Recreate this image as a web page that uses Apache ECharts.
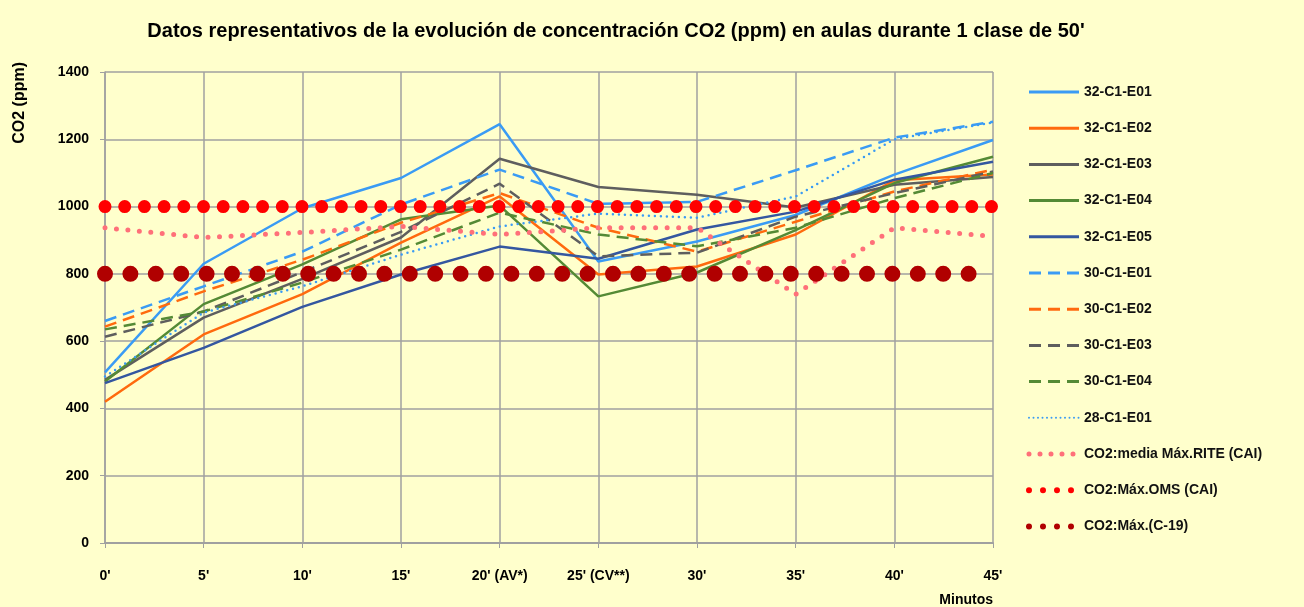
<!DOCTYPE html>
<html>
<head>
<meta charset="utf-8">
<script src="https://cdn.jsdelivr.net/npm/echarts@6/dist/echarts.min.js"></script>
<style>
  html, body { margin: 0; padding: 0; background: #ffffcc; }
  #chart { width: 1304px; height: 607px; }
</style>
</head>
<body>
<div id="chart"></div>
<script>
var minutos = ["0'", "5'", "10'", "15'", "20' (AV*)", "25' (CV**)", "30'", "35'", "40'", "45'"];
var yTicks = [0, 200, 400, 600, 800, 1000, 1200, 1400];

var s32E01 = [507, 830, 995, 1085, 1245, 837, 896, 975, 1095, 1198];
var s32E02 = [420, 620, 740, 893, 1030, 798, 822, 917, 1078, 1095];
var s32E03 = [485, 670, 785, 908, 1142, 1058, 1035, 997, 1065, 1088];
var s32E04 = [480, 710, 828, 962, 1003, 733, 804, 930, 1070, 1148];
var s32E05 = [475, 580, 702, 798, 881, 845, 932, 985, 1080, 1133];
var s30E01 = [660, 763, 866, 1006, 1110, 1008, 1014, 1108, 1205, 1252];
var s30E02 = [643, 748, 842, 952, 1040, 937, 866, 955, 1045, 1110];
var s30E03 = [613, 688, 805, 925, 1068, 852, 863, 970, 1040, 1104];
var s30E04 = [635, 688, 774, 872, 982, 917, 882, 937, 1025, 1100];
var s28E01 = [495, 685, 763, 857, 941, 979, 967, 1030, 1200, 1250];
var mediaRite = [937, 908, 923, 941, 917, 937, 937, 739, 937, 911];
var maxOms = [1000, 1000, 1000, 1000, 1000, 1000, 1000, 1000, 1000, 1000];
var maxC19 = [800, 800, 800, 800, 800, 800, 800, 800, 800, 800];

var font = 'Liberation Sans';

function serie(name, data, color, width, type, cap) {
    return {
        name: name,
        type: 'line',
        data: data,
        symbol: 'none',
        silent: true,
        lineStyle: { color: color, width: width, type: type, cap: cap || 'butt' },
        itemStyle: { color: color }
    };
}

var series = [
    serie('32-C1-E01', s32E01, '#3a9bf4', 2.5, 'solid'),
    serie('32-C1-E02', s32E02, '#ff6a0e', 2.5, 'solid'),
    serie('32-C1-E03', s32E03, '#5e5e5e', 2.5, 'solid'),
    serie('32-C1-E04', s32E04, '#548a35', 2.5, 'solid'),
    serie('32-C1-E05', s32E05, '#3457a0', 2.5, 'solid'),
    serie('30-C1-E01', s30E01, '#3a9bf4', 2.5, [12, 7]),
    serie('30-C1-E02', s30E02, '#ff6a0e', 2.5, [12, 7]),
    serie('30-C1-E03', s30E03, '#5e5e5e', 2.5, [12, 7]),
    serie('30-C1-E04', s30E04, '#548a35', 2.5, [12, 7]),
    serie('28-C1-E01', s28E01, '#3a9bf4', 2.5, [0, 6], 'round'),
    serie('CO2:media Máx.RITE (CAI)', mediaRite, '#ff7079', 5, [0, 11.5], 'round'),
    serie('CO2:Máx.OMS (CAI)', maxOms, '#ff0000', 13, [0, 19.7], 'round'),
    serie('CO2:Máx.(C-19)', maxC19, '#b00000', 16, [0, 25.4], 'round')
];

// smaller dots in the legend than on the plot
var legendData = series.map(function (s, i) {
    var item = { name: s.name };
    if (i < 9) item.lineStyle = { width: 3 };
    if (i === 9) item.lineStyle = { width: 2, type: [0, 4.5] };
    if (i === 10) item.lineStyle = { width: 5, type: [0, 11] };
    if (i === 11) item.lineStyle = { width: 6, type: [0, 14] };
    if (i === 12) item.lineStyle = { width: 6, type: [0, 14] };
    return item;
});

var chart = echarts.init(document.getElementById('chart'));
chart.setOption({
    backgroundColor: '#ffffcc',
    animation: false,
    title: {
        text: "Datos representativos de la evolución de concentración CO2 (ppm) en aulas durante 1 clase de 50'",
        left: 611,
        textAlign: 'center',
        top: 16,
        textStyle: { fontFamily: font, fontWeight: 'bold', fontSize: 20, color: '#000' }
    },
    legend: {
        orient: 'vertical',
        left: 1026,
        top: 85,
        padding: 0,
        itemWidth: 50,
        itemHeight: 14,
        itemGap: 22.2,
        data: legendData,
        itemStyle: { opacity: 0 },
        selectedMode: false,
        textStyle: { fontFamily: font, fontWeight: 'bold', fontSize: 14, color: '#111' }
    },
    grid: { left: 105, right: 311, top: 72, bottom: 63 },
    xAxis: {
        type: 'category',
        data: minutos,
        boundaryGap: false,
        name: 'Minutos',
        nameLocation: 'end',
        nameGap: 0,
        nameTextStyle: {
            fontFamily: font, fontWeight: 'bold', fontSize: 14, color: '#000',
            align: 'right', verticalAlign: 'top', padding: [50, 0, 0, 0]
        },
        axisLine: { lineStyle: { color: '#a0a0a0', width: 2 } },
        axisTick: { show: true, length: 5, lineStyle: { color: '#a0a0a0' } },
        axisLabel: {
            margin: 26,
            fontFamily: font, fontWeight: 'bold', fontSize: 14, color: '#000'
        },
        splitLine: { show: true, lineStyle: { color: '#a0a0a0', width: 1.5 } }
    },
    yAxis: {
        type: 'value',
        min: yTicks[0],
        max: yTicks[yTicks.length - 1],
        interval: 200,
        name: 'CO2 (ppm)',
        nameLocation: 'end',
        nameRotate: 90,
        nameGap: 10,
        nameTextStyle: {
            fontFamily: font, fontWeight: 'bold', fontSize: 16, color: '#000',
            align: 'right', verticalAlign: 'bottom', padding: [0, 0, 77, 0]
        },
        axisLine: { show: true, lineStyle: { color: '#a0a0a0', width: 1.5 } },
        axisTick: { show: true, length: 5, lineStyle: { color: '#a0a0a0' } },
        axisLabel: {
            margin: 16,
            formatter: function (v) { return String(v); },
            fontFamily: font, fontWeight: 'bold', fontSize: 14, color: '#000'
        },
        splitLine: { show: true, lineStyle: { color: '#a0a0a0', width: 1.5 } }
    },
    series: series
});
</script>
</body>
</html>
